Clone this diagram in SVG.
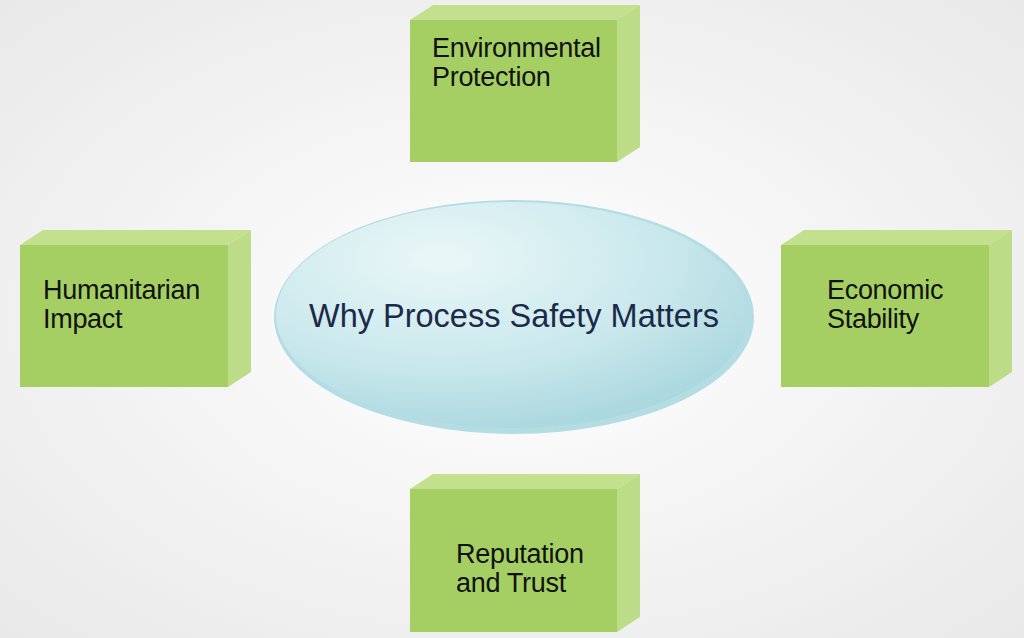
<svg xmlns="http://www.w3.org/2000/svg" width="1024" height="638" viewBox="0 0 1024 638">
<defs>
<radialGradient id="bg" cx="50%" cy="50%" r="70%"><stop offset="0" stop-color="#ffffff"/><stop offset="1" stop-color="#e9e9e9"/></radialGradient>
<radialGradient id="ell" cx="35%" cy="25%" r="80%"><stop offset="0" stop-color="#eaf7f8"/><stop offset="0.6" stop-color="#c9e8ec"/><stop offset="1" stop-color="#a9d6de"/></radialGradient>
<style>
.front{fill:#a5cf63}
.top{fill:#c3e08f}
.side{fill:#bcdc88}
.lbl{font-family:"Liberation Sans",Arial,sans-serif;font-size:27px;fill:#111;letter-spacing:-0.3px}
</style>
</defs>
<rect width="1024" height="638" fill="url(#bg)"/>
<g id="connectors"></g>
<g id="center">
<ellipse cx="514" cy="317" rx="240" ry="117" fill="#b4dde3"/>
<ellipse cx="512" cy="315" rx="236" ry="113" fill="url(#ell)"/>
<text x="514" y="327" text-anchor="middle" font-family="Liberation Sans,Arial,sans-serif" font-size="32.5" fill="#1c2a4a">Why Process Safety Matters</text>
</g>
<g id="env">
<polygon class="top" points="410,20 433,5 640,5 617,20"/>
<polygon class="side" points="617,20 640,5 640,147 617,162"/>
<rect class="front" x="410" y="20" width="207" height="142"/>
<text class="lbl" x="432" y="57">Environmental</text><text class="lbl" x="432" y="86">Protection</text>
</g>
<g id="hum">
<polygon class="top" points="20,245 43,230 251,230 228,245"/>
<polygon class="side" points="228,245 251,230 251,372 228,387"/>
<rect class="front" x="20" y="245" width="208" height="142"/>
<text class="lbl" x="43" y="299">Humanitarian</text><text class="lbl" x="43" y="328">Impact</text>
</g>
<g id="eco">
<polygon class="top" points="781,245 804,230 1012,230 989,245"/>
<polygon class="side" points="989,245 1012,230 1012,372 989,387"/>
<rect class="front" x="781" y="245" width="208" height="142"/>
<text class="lbl" x="827" y="299">Economic</text><text class="lbl" x="827" y="328">Stability</text>
</g>
<g id="rep">
<polygon class="top" points="410,489 433,474 640,474 617,489"/>
<polygon class="side" points="617,489 640,474 640,617 617,632"/>
<rect class="front" x="410" y="489" width="207" height="143"/>
<text class="lbl" x="456" y="563">Reputation</text><text class="lbl" x="456" y="592">and Trust</text>
</g>
</svg>
